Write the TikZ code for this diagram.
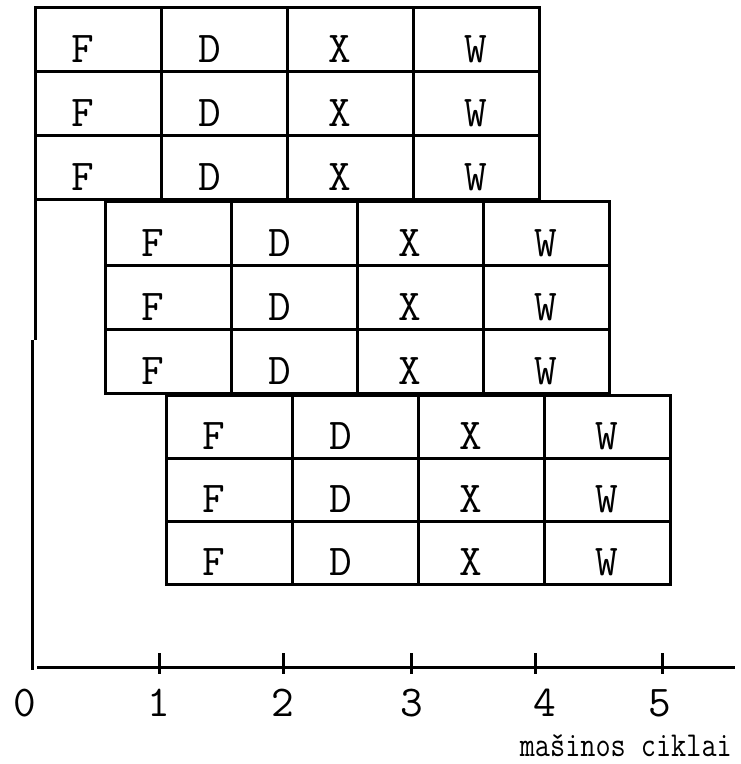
\documentclass[tikz,border=0pt]{standalone}
\usepackage{fontspec}
\usetikzlibrary{calc}
\tikzset{
  cell/.style={draw,line width=3pt,minimum width=126pt,minimum height=#1,inner sep=0pt},
  stage/.style={font=\ttfamily\fontsize{44}{44}\selectfont},
  axis/.style={line width=3pt},
  ticklabel/.style={font=\ttfamily\fontsize{44}{44}\selectfont,anchor=base},
  unitlabel/.style={font=\ttfamily\fontsize{35}{35}\selectfont,anchor=base east,inner sep=0pt},
}

\begin{document}
\begin{tikzpicture}[x=1pt,y=-1pt]
  \useasboundingbox (0,0) rectangle (740,764);
  % three groups, three instructions each, four stages per instruction
  \foreach \g/\gx/\gy/\gh in {1/35/7/64,2/105/201/64,3/166/395/63}
    \foreach \r in {1,2,3}
      \foreach \s/\dx [count=\c] in {F/-15,D/-14,X/-10,W/0}
        \node[cell=\gh pt,label={[stage,xshift=\dx pt,yshift=-10pt]center:\s}]
          (c\g\r\s) at ({\gx+126*(\c-0.5)},{\gy+\gh*(\r-0.5)}) {};
  % time axis
  \coordinate (vtop) at (35,199);
  \coordinate (vmid) at (35,340);
  \coordinate (vkink) at (32,340);
  \coordinate (vend) at (32,670);
  \coordinate (hbeg) at (37,667);
  \coordinate (hend) at (735,667);
  \draw[axis] (vtop) -- (vmid);
  \draw[axis] (vkink) -- (vend);
  \draw[axis] (hbeg) -- (hend);
  \foreach \x in {159,283,411,535,662}
    \draw[axis] (\x,653) -- (\x,674);
  \foreach \n/\lx in {0/25,1/159,2/283,3/412,4/545,5/660}
    \node[ticklabel] (n\n) at (\lx,716) {\n};
  \node[unitlabel] (unit) at (732,756) {\scalebox{0.84}[1]{mašinos ciklai}};
\end{tikzpicture}
\end{document}
